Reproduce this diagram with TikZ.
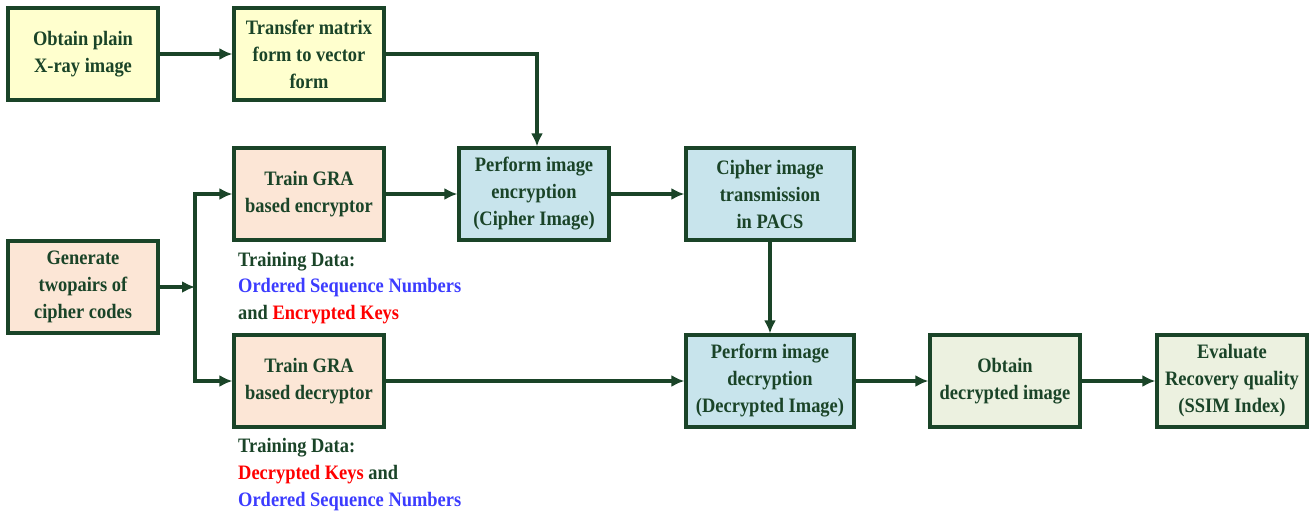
\documentclass[tikz,border=0pt]{standalone}
\usepackage{fontspec}
\setmainfont{Liberation Serif}[FakeStretch=0.9]
\usetikzlibrary{arrows,arrows.meta,shapes}
\usetikzlibrary{calc}
\definecolor{dkgreen}{RGB}{26,68,40}
\definecolor{boxyellow}{RGB}{255,255,206}
\definecolor{boxpeach}{RGB}{252,230,214}
\definecolor{boxblue}{RGB}{200,228,236}
\definecolor{boxgreen}{RGB}{236,241,224}
\definecolor{txtblue}{RGB}{60,60,255}
\definecolor{txtred}{RGB}{255,0,0}
\tikzstyle{block}=[rectangle,draw=dkgreen,line width=3.2pt,text=dkgreen,minimum width=150pt,minimum height=92pt,inner sep=2pt,align=center,font=\fontsize{20.5}{27}\selectfont\bfseries]
\tikzstyle{link}=[draw=dkgreen,line width=3.4pt,-{Latex[length=13pt,width=12pt]}]
\tikzstyle{note}=[anchor=west,text=dkgreen,inner sep=0pt,font=\fontsize{20.5}{27}\selectfont\bfseries]

\begin{document}
\begin{tikzpicture}[x=1pt,y=-1pt]

    \useasboundingbox (0,0) rectangle (1313,515);

    % first row
    \node[block, fill=boxyellow] (plain) at (83,54) {Obtain plain\\X-ray image};
    \node[block, fill=boxyellow] (vect) at (309,54) {Transfer matrix\\form to vector\\form};

    % middle row
    \node[block, fill=boxpeach] (enctr) at (309,194) {Train GRA\\based encryptor};
    \node[block, fill=boxblue] (encr) at (534,194) {Perform image\\encryption\\(Cipher Image)};
    \node[block, fill=boxblue, minimum width=168pt] (pacs) at (770,194) {Cipher image\\transmission\\in PACS};
    \node[block, fill=boxpeach] (codes) at (83,287) {Generate\\twopairs of\\cipher codes};

    % last row
    \node[block, fill=boxpeach] (dectr) at (309,381) {Train GRA\\based decryptor};
    \node[block, fill=boxblue, minimum width=168pt] (decr) at (770,381) {Perform image\\decryption\\(Decrypted Image)};
    \node[block, fill=boxgreen] (obt) at (1005,381) {Obtain\\decrypted image};
    \node[block, fill=boxgreen] (eval) at (1232,381) {Evaluate\\Recovery quality\\(SSIM Index)};

    % training data notes
    \node[note] (td1) at (238,262) {Training Data:};
    \node[note] (td2) at (238,288) {\textcolor{txtblue}{Ordered Sequence Numbers}};
    \node[note] (td3) at (238,315) {and \textcolor{txtred}{Encrypted Keys}};
    \node[note] (td4) at (238,448) {Training Data:};
    \node[note] (td5) at (238,475) {\textcolor{txtred}{Decrypted Keys} and};
    \node[note] (td6) at (238,502) {\textcolor{txtblue}{Ordered Sequence Numbers}};

    \coordinate (fork) at (195,287);

    \foreach \a/\b in {plain/vect, enctr/encr, encr/pacs, dectr/decr, decr/obt, obt/eval}
        \draw[link] (\a) -- (\b);

    \draw[link] (vect.east) -| ($(encr.north)+(3,0)$);
    \draw[link] (pacs) -- (decr);
    \draw[link] (codes) -- (fork);
    \draw[link] (fork) |- (enctr.west);
    \draw[link] (fork) |- (dectr.west);

\end{tikzpicture}
\end{document}
